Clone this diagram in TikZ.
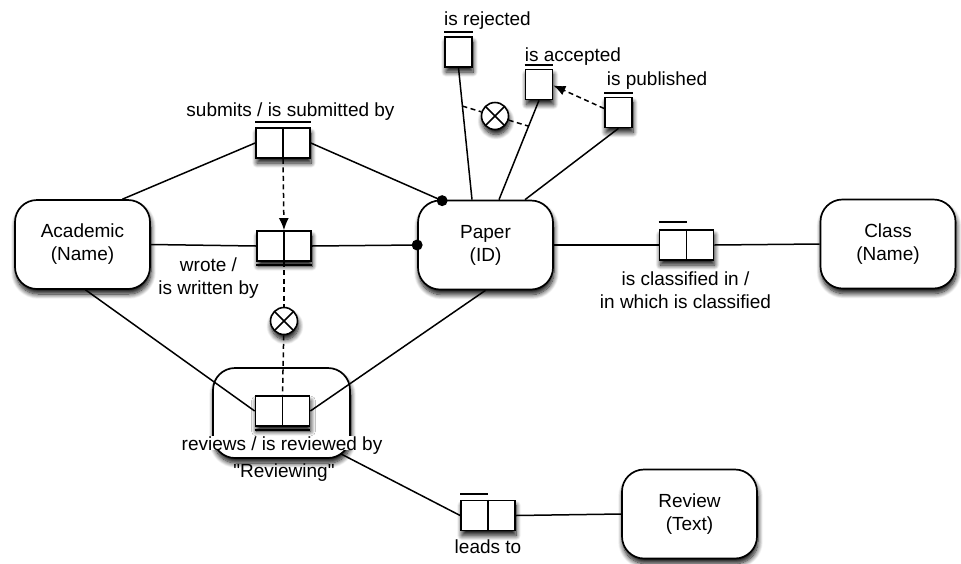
\documentclass[tikz,border=0pt]{standalone}
\usepackage{fontspec}
\setmainfont{Liberation Sans}[Ligatures=TeXOff]
\usetikzlibrary{shadows.blur,arrows.meta,calc}
\begin{document}
\begin{tikzpicture}[x=1pt,y=-1pt,
  font=\fontsize{19}{23}\selectfont,
  shad/.style={blur shadow={shadow xshift=1pt,shadow yshift=-5pt,shadow blur radius=5pt,shadow blur steps=10,shadow opacity=95}},
  ent/.style={draw,line width=1.7pt,rounded corners=22pt,fill=white,minimum width=135pt,minimum height=89pt,align=center,inner sep=0pt,shad},
  pairbox/.style={draw,line width=1.7pt,fill=white,minimum width=54pt,minimum height=30pt,inner sep=0pt,shad},
  unibox/.style={draw,line width=1.7pt,fill=white,minimum width=27pt,minimum height=30pt,inner sep=0pt,shad},
  ln/.style={line width=1.5pt},
  ubar/.style={line width=1.8pt},
  dsh/.style={line width=1.5pt,dash pattern=on 5pt off 3.5pt},
  excl/.style={circle,draw,line width=1.6pt,fill=white,minimum size=27pt,inner sep=0pt,shad,
    path picture={\draw[line width=1.6pt] (path picture bounding box.north west) -- (path picture bounding box.south east)
      (path picture bounding box.north east) -- (path picture bounding box.south west);}},
  lbl/.style={inner sep=0pt,anchor=base},
  mlbl/.style={inner sep=0pt,align=center},
  dot/.style={circle,fill=black,inner sep=0pt,minimum size=11pt},
  arr/.style={-{Latex[length=12pt,width=10pt]}}
]
\useasboundingbox (0,0) rectangle (961,563);

% entity types
\node[ent] (acad) at (82.5,244.5) {Academic\\(Name)};
\node[ent] (paper) at (485.5,245) {Paper\\(ID)};
\node[ent] (cls) at (888,244) {Class\\(Name)};
\node[ent] (rvw) at (689.5,514) {Review\\(Text)};
\node[ent,minimum width=137pt,minimum height=90pt] (rving) at (281.5,413) {};

% fact types
\node[pairbox] (sub) at (283,143) {};
\node[pairbox] (wr) at (284,246) {};
\node[pairbox] (rv) at (282.5,411) {};
\node[pairbox] (lt) at (488,515.5) {};
\node[pairbox] (cl) at (686.5,245) {};
\foreach \f in {sub,wr,rv,lt,cl} {\draw[line width=1.7pt] (\f.north) -- (\f.south);}
\node[unibox] (rej) at (458.5,52) {};
\node[unibox] (acc) at (539,84.5) {};
\node[unibox] (pub) at (618.5,112.5) {};

% uniqueness bars
\draw[ubar] ($(sub.north west)+(0,-5)$) -- ($(sub.north east)+(0,-5)$);
\draw[ubar] ($(wr.south west)+(0,3.5)$) -- ($(wr.south east)+(0,3.5)$);
\draw[ubar] ($(rv.south west)+(0,3.5)$) -- ($(rv.south east)+(0,3.5)$);
\draw[ubar] ($(lt.north west)+(0,-6)$) -- ($(lt.north)+(0,-6)$);
\draw[ubar] ($(cl.north west)+(0,-7)$) -- ($(cl.north)+(0,-7)$);
\foreach \u in {rej,acc,pub} {\draw[ubar] ($(\u.north west)+(0,-4)$) -- ($(\u.north east)+(0,-4)$);}

% exclusion constraints
\node[excl] (x1) at (284,321) {};
\node[excl] (x2) at (495,116) {};

% connectors
\draw[ln] ($(acad.north)+(40,0)$) -- (sub.west);
\coordinate (d1c) at ($(paper.north west)+(25,1)$);
\draw[ln] (sub.east) -- (d1c);
\node[dot] (d1) at (d1c) {};
\draw[ln] (acad.east) -- (wr.west);
\draw[ln] (wr.east) -- (paper.west);
\node[dot] (d2) at (paper.west) {};
\draw[ln] ($(acad.south)+(3,0)$) -- (rv.west);
\draw[ln] (rv.east) -- (paper.south);
\draw[dsh,arr] (sub.south) -- (wr.north);
\draw[dsh] (wr.south) -- (x1);
\draw[dsh] (x1) -- (rv.north);
\draw[ln] ($(rving.south east)+(-10,-5)$) -- (lt.west);
\draw[ln] (lt.east) -- (rvw.west);
\draw[ln] (paper.east) -- (cl.west);
\draw[ln] (cl.east) -- (cls.west);
\draw[ln] (rej.south) -- coordinate[pos=0.29] (p1) ($(paper.north)+(-13.5,0)$);
\draw[ln] (acc.south) -- coordinate[pos=0.26] (p2) ($(paper.north)+(13.5,0)$);
\draw[ln] (pub.south) -- ($(paper.north)+(39.5,0)$);
\draw[dsh] (p1) -- (x2);
\draw[dsh] (x2) -- (p2);
\draw[dsh,arr] ($(pub.west)+(0,-4)$) -- ($(acc.east)+(0,1)$);

% labels
\node[lbl] (lrej) at (487.5,25) {is rejected};
\node[lbl] (lacc) at (573,61) {is accepted};
\node[lbl] (lpub) at (657,85) {is published};
\node[lbl] (lsub) at (290.5,116) {submits / is submitted by};
\node[mlbl] (lwr) at (208.5,278) {wrote /\\is written by};
\node[mlbl] (lcl) at (685.5,290.5) {is classified in /\\in which is classified};
\node[lbl,fill=white,text depth=0pt] (lrv) at (282,450) {reviews / is reviewed by};
\node[lbl] (lrving) at (284,477) {"Reviewing"};
\node[lbl] (llt) at (488,553) {leads to};
\end{tikzpicture}
\end{document}
